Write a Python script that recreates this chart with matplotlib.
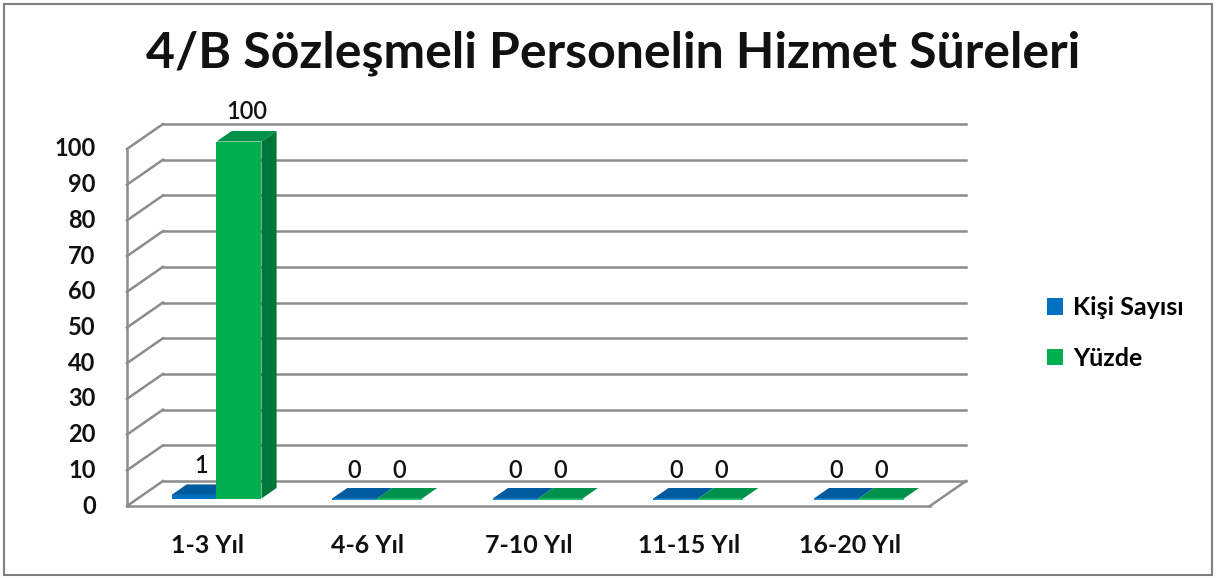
import matplotlib
matplotlib.use("Agg")
import matplotlib.pyplot as plt
from matplotlib.patches import Polygon, Rectangle, Patch

plt.rcParams['font.family'] = ['Lato', 'DejaVu Sans']

title = "4/B Sözleşmeli Personelin Hizmet Süreleri"
categories = ["1-3 Yıl", "4-6 Yıl", "7-10 Yıl", "11-15 Yıl", "16-20 Yıl"]
kisi_sayisi = [1, 0, 0, 0, 0]
yuzde = [100, 0, 0, 0, 0]
series_names = ["Kişi Sayısı", "Yüzde"]
y_ticks = list(range(0, 101, 10))

# colours: front, top, side
blue = ("#0070C0", "#005A9E", "#004F88")
green = ("#00B050", "#00914A", "#00773A")

W, H = 1217, 578
fig = plt.figure(figsize=(W / 100, H / 100), dpi=100)
ax = fig.add_axes([0, 0, 1, 1])

# front plane: category 0 at x=127px, 160.6px per category; value 0 at y=506px, 3.57px per unit
cw, x0px = 160.6, 127
vh, y0px = 3.57, 506
ax.set_xlim(-x0px / cw, (W - x0px) / cw)
ax.set_ylim((y0px - H) / vh, y0px / vh)
ax.axis("off")

# depth offset (full depth) in data units
DX = 36 / cw
DY = 25 / vh


def proj(c, v, d):
    return (c + d * DX, v + d * DY)


grid_col = "#8c8c8c"
ncat = len(categories)
txt_col = "#111111"

# back wall gridlines and left wall diagonals
for v in y_ticks:
    a, b = proj(0, v, 1), proj(ncat, v, 1)
    ax.plot([a[0], b[0]], [a[1], b[1]], color=grid_col, lw=1.8, zorder=1)
    a, b = proj(0, v, 0), proj(0, v, 1)
    ax.plot([a[0], b[0]], [a[1], b[1]], color=grid_col, lw=1.8, zorder=1)
# front vertical axis
ax.plot([0, 0], [0, y_ticks[-1]], color=grid_col, lw=1.8, zorder=1)
# floor
ax.plot([0, ncat], [0, 0], color=grid_col, lw=1.8, zorder=1)
a, b = proj(ncat, 0, 0), proj(ncat, 0, 1)
ax.plot([a[0], b[0]], [a[1], b[1]], color=grid_col, lw=1.8, zorder=1)

# y tick labels
for v in y_ticks:
    ax.text(-0.195, v, str(v), ha="right", va="center", fontsize=17,
            fontweight="bold", color=txt_col)

# category labels
for i, lab in enumerate(categories):
    ax.text(i + 0.5, -11.0, lab, ha="center", va="center", fontsize=18,
            fontweight="bold", color=txt_col)

bw = 0.28
bx = [0.21, 0.49]
d0, d1 = 0.3, 0.72


def bar3d(c0, c1, h, cols, z):
    front = [proj(c0, 0, d0), proj(c1, 0, d0), proj(c1, h, d0), proj(c0, h, d0)]
    top = [proj(c0, h, d0), proj(c1, h, d0), proj(c1, h, d1), proj(c0, h, d1)]
    side = [proj(c1, 0, d0), proj(c1, 0, d1), proj(c1, h, d1), proj(c1, h, d0)]
    ax.add_patch(Polygon(side, closed=True, fc=cols[2], ec="none", zorder=z))
    ax.add_patch(Polygon(top, closed=True, fc=cols[1], ec="none", zorder=z))
    ax.add_patch(Polygon(front, closed=True, fc=cols[0], ec=cols[0] if h == 0 else "none",
                         lw=1.2, zorder=z + 0.1))


z = 3
for i in range(ncat):
    for vals, cols, off in ((kisi_sayisi, blue, bx[0]), (yuzde, green, bx[1])):
        c0 = i + off
        h = vals[i]
        bar3d(c0, c0 + bw, h, cols, z)
        z += 1
        dl = (d0 + d1) / 2 if h > 0 else d0
        cx, cy = proj(c0 + bw / 2, h, dl)
        ax.annotate(str(h), (cx, cy), xytext=(0, 16 if h == 0 else 13), textcoords="offset pixels",
                    ha="center", va="bottom", fontsize=17, fontweight="semibold",
                    color=txt_col, zorder=50)

# title
fig.text(613 / W, 1 - 53 / H, title, ha="center", va="center", fontsize=36,
         fontweight="bold", color=txt_col)

# legend
handles = [Patch(fc=blue[0], ec="none"), Patch(fc=green[0], ec="none")]
ax.legend(handles, series_names, loc="center left", bbox_to_anchor=(1024 / W, 1 - 333 / H),
          bbox_transform=fig.transFigure, frameon=False, handlelength=0.65, handleheight=0.65,
          handletextpad=0.4, labelspacing=1.1, prop={"size": 18, "weight": "bold"})

# outer border
fig.patches.append(Rectangle((4 / W, 3 / H), (W - 9) / W, (H - 7) / H, transform=fig.transFigure,
                             fill=False, ec="#808080", lw=1.5))

fig.savefig("out.png", dpi=100)
